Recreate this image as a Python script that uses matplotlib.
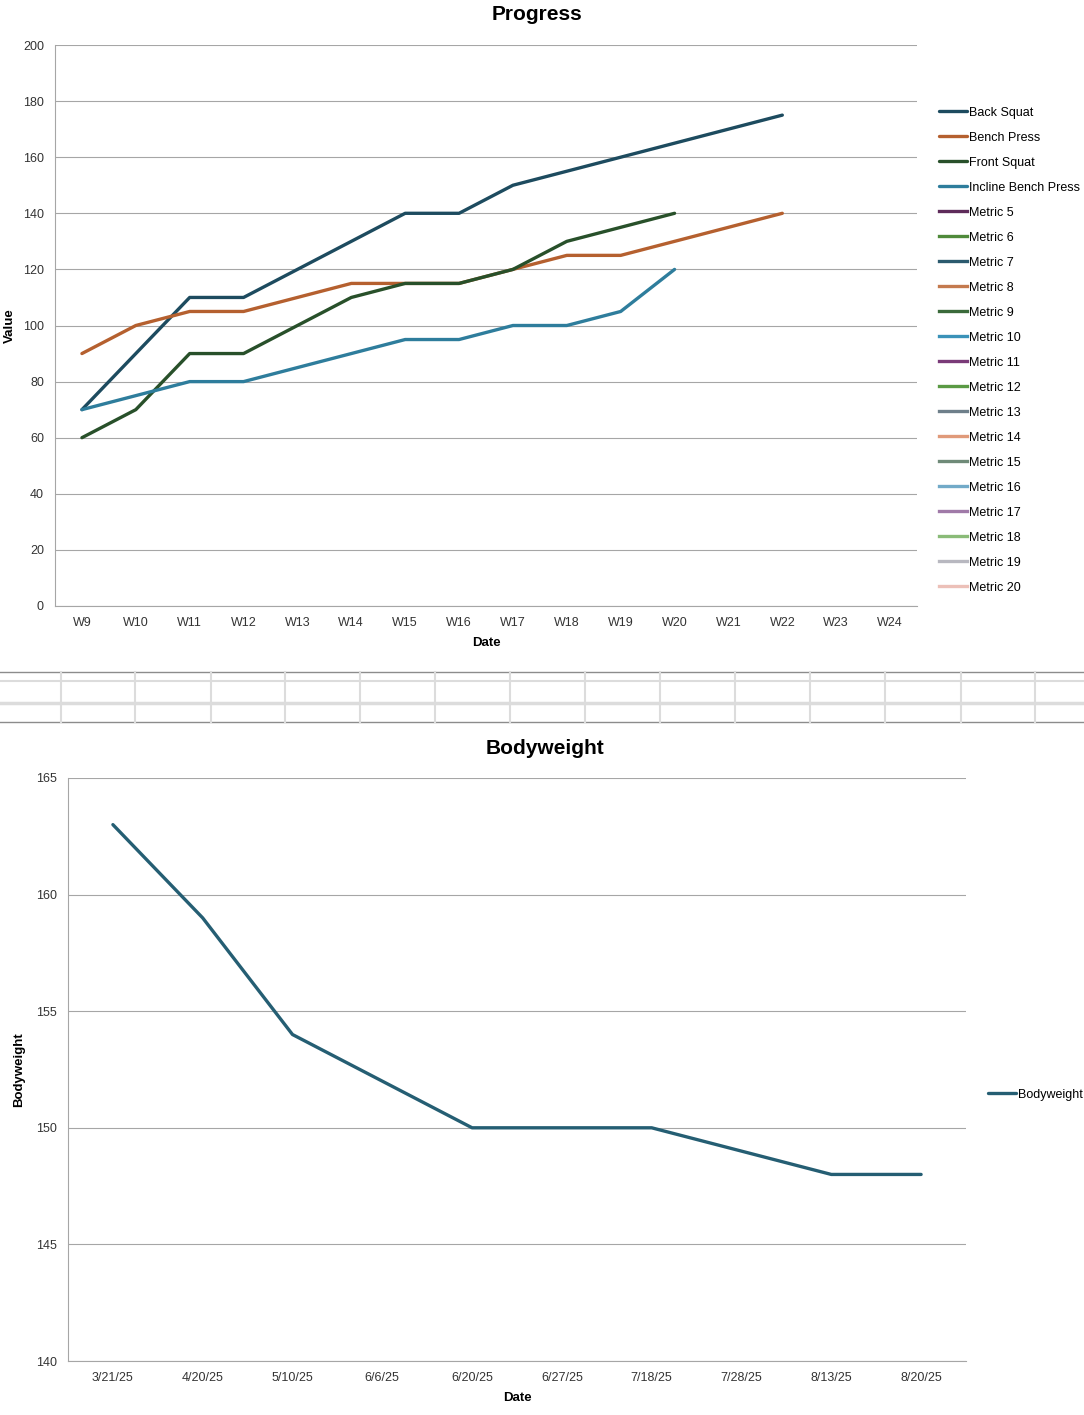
import numpy as np
import matplotlib
matplotlib.use("Agg")
import matplotlib.pyplot as plt

plt.rcParams['font.family'] = ['Liberation Sans', 'DejaVu Sans']
legend_font = {'family': ['Liberation Sans Narrow', 'Liberation Sans', 'DejaVu Sans'], 'size': 9}

# Progress chart data
weeks = ["W9", "W10", "W11", "W12", "W13", "W14", "W15", "W16",
         "W17", "W18", "W19", "W20", "W21", "W22", "W23", "W24"]
back_squat = [70, 90, 110, 110, 120, 130, 140, 140, 150, 155, 160, 165, 170, 175]
bench_press = [90, 100, 105, 105, 110, 115, 115, 115, 120, 125, 125, 130, 135, 140]
front_squat = [60, 70, 90, 90, 100, 110, 115, 115, 120, 130, 135, 140]
incline_bench = [70, 75, 80, 80, 85, 90, 95, 95, 100, 100, 105, 120]

series_names = ["Back Squat", "Bench Press", "Front Squat", "Incline Bench Press"] + \
    [f"Metric {i}" for i in range(5, 21)]
series_values = [back_squat, bench_press, front_squat, incline_bench] + [[] for _ in range(16)]
series_colors = ["#1d4b5f", "#b5602f", "#28502a", "#2e7d9c",
                 "#5e2b5a", "#4f8a3a", "#2b5a6e", "#c47a4e",
                 "#3a6a3a", "#3a92b8", "#7a3a78", "#5a9a44",
                 "#6e7f8a", "#e09a7a", "#6f8a78", "#72aac8",
                 "#a07aa8", "#8abb78", "#b8b8c0", "#ecc0b8"]

# Bodyweight chart data
bw_dates = ["3/21/25", "4/20/25", "5/10/25", "6/6/25", "6/20/25",
            "6/27/25", "7/18/25", "7/28/25", "8/13/25", "8/20/25"]
bodyweight = [163, 159, 154, 152, 150, 150, 150, 149, 148, 148]

W, H = 1084, 1415
fig = plt.figure(figsize=(W / 100, H / 100), dpi=100)


def ax_rect(x0, y0, x1, y1):
    return [x0 / W, 1 - y1 / H, (x1 - x0) / W, (y1 - y0) / H]


grid_col = "#a6a6a6"
tick_col = "#333333"

# ------------------------------------------------------------
# Progress
# ------------------------------------------------------------
ax1 = fig.add_axes(ax_rect(55, 45, 917, 606))
x = np.arange(len(weeks))
for name, vals, col in zip(series_names, series_values, series_colors):
    if len(vals):
        ax1.plot(x[:len(vals)], vals, color=col, lw=2.4, label=name,
                 solid_joinstyle='round', solid_capstyle='round')
    else:
        ax1.plot([], [], color=col, lw=2.4, label=name)
ax1.set_xlim(-0.5, len(weeks) - 0.5)
ax1.set_ylim(0, 200)
ax1.set_yticks(range(0, 201, 20))
ax1.set_xticks(x)
ax1.set_xticklabels(weeks)
ax1.grid(axis='y', color=grid_col, lw=0.8)
ax1.set_axisbelow(True)
for s in ["top", "right"]:
    ax1.spines[s].set_visible(False)
ax1.spines["left"].set_color(grid_col)
ax1.spines["bottom"].set_color(grid_col)
ax1.tick_params(length=0, labelsize=9, colors=tick_col, pad=8)
fig.text(537 / W, 1 - 14 / H, "Progress", fontsize=15, fontweight='bold',
         ha='center', va='center')
ax1.set_xlabel("Date", fontsize=9.5, fontweight='bold', labelpad=6)
ax1.set_ylabel("Value", fontsize=9.5, fontweight='bold', labelpad=5)
ax1.legend(loc="upper left", bbox_to_anchor=(1.02, 0.899), frameon=False,
           prop=legend_font, handlelength=2.2, handletextpad=0.2,
           labelspacing=1.04, borderaxespad=0)

# ------------------------------------------------------------
# Spreadsheet grid strip between charts
# ------------------------------------------------------------
strip = fig.add_axes(ax_rect(0, 667, W, 727))
strip.set_xlim(0, W)
strip.set_ylim(727, 667)
strip.axis("off")
strip.axhline(672, color="#8c8c8c", lw=1.0)
strip.axhline(722, color="#8c8c8c", lw=1.0)
strip.axhline(681, color="#dcdcdc", lw=1.5)
strip.axhline(703, color="#dcdcdc", lw=2.5)
for cx in [61, 135, 211, 285, 360, 435, 510, 585, 660, 735, 810, 885, 961, 1035]:
    strip.plot([cx, cx], [672, 722], color="#dcdcdc", lw=1.5)

# ------------------------------------------------------------
# Bodyweight
# ------------------------------------------------------------
ax2 = fig.add_axes(ax_rect(68, 778, 966, 1361))
xb = np.arange(len(bw_dates))
ax2.plot(xb, bodyweight, color="#255e73", lw=2.4, label="Bodyweight",
         solid_joinstyle='round', solid_capstyle='round')
ax2.set_xlim(-0.5, len(bw_dates) - 0.5)
ax2.set_ylim(140, 165)
ax2.set_yticks(range(140, 166, 5))
ax2.set_xticks(xb)
ax2.set_xticklabels(bw_dates)
ax2.grid(axis='y', color=grid_col, lw=0.8)
ax2.set_axisbelow(True)
for s in ["top", "right"]:
    ax2.spines[s].set_visible(False)
ax2.spines["left"].set_color(grid_col)
ax2.spines["bottom"].set_color(grid_col)
ax2.tick_params(length=0, labelsize=9, colors=tick_col, pad=8)
fig.text(545 / W, 1 - 749 / H, "Bodyweight", fontsize=15, fontweight='bold',
         ha='center', va='center')
ax2.set_xlabel("Date", fontsize=9.5, fontweight='bold', labelpad=6)
ax2.set_ylabel("Bodyweight", fontsize=9.5, fontweight='bold', labelpad=8)
ax2.legend(loc="center left", bbox_to_anchor=(1.019, 0.457), frameon=False,
           prop=legend_font, handlelength=2.2, handletextpad=0.2, borderaxespad=0)

fig.savefig("out.png", dpi=100)
